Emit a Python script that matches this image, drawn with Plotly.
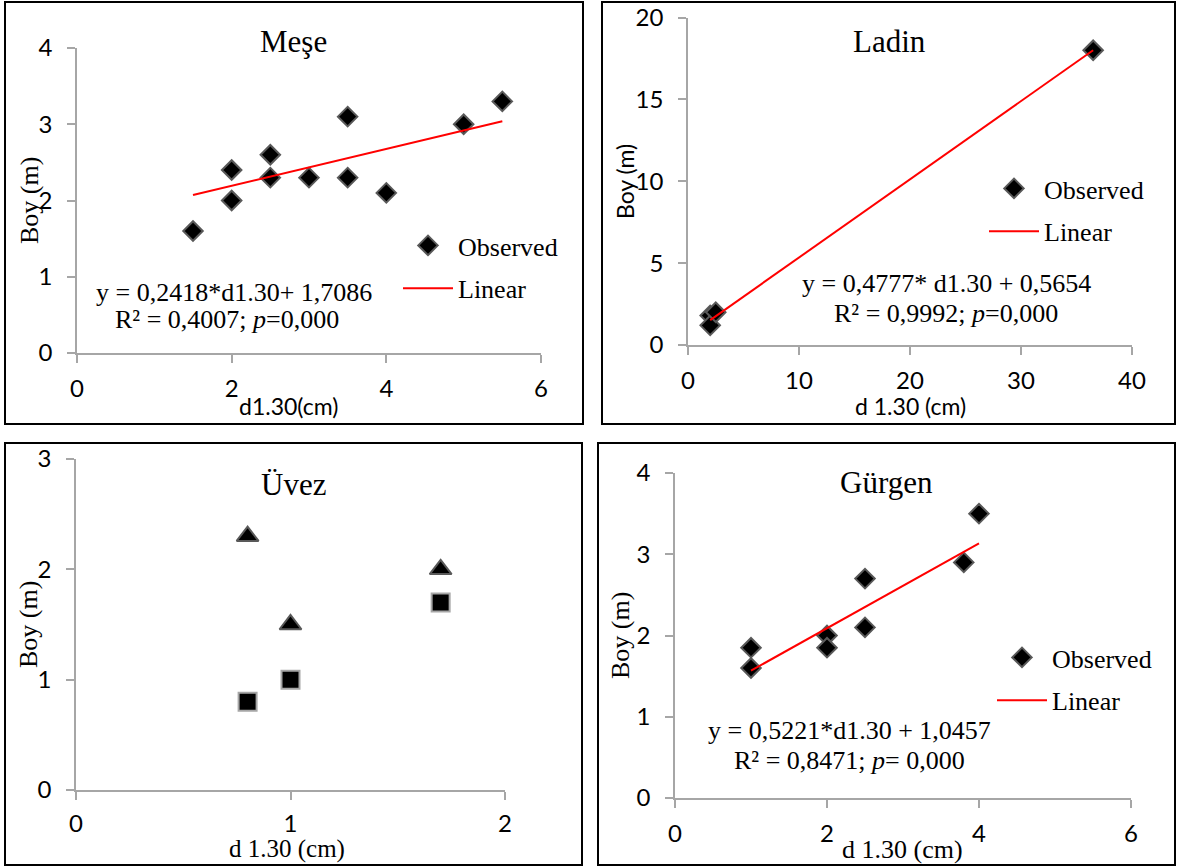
import plotly.graph_objects as go

# ---------------- data ----------------
mese_d = [1.5, 2.0, 2.0, 2.5, 2.5, 3.0, 3.5, 3.5, 4.0, 5.0, 5.5]
mese_h = [1.6, 2.4, 2.0, 2.6, 2.3, 2.3, 3.1, 2.3, 2.1, 3.0, 3.3]
mese_fit = [0.2418, 1.7086]

ladin_d = [2.0, 2.0, 2.5, 36.5]
ladin_h = [1.8, 1.2, 2.0, 18.0]
ladin_fit = [0.4777, 0.5654]

uvez_d = [0.8, 1.0, 1.7]
uvez_tri = [2.3, 1.5, 2.0]
uvez_sq = [0.8, 1.0, 1.7]

gurgen_d = [1.0, 1.0, 2.0, 2.0, 2.5, 2.5, 3.8, 4.0]
gurgen_h = [1.85, 1.6, 2.0, 1.85, 2.7, 2.1, 2.9, 3.5]
gurgen_fit = [0.5221, 1.0457]

titles = ["Meşe", "Ladin", "Üvez", "Gürgen"]
eq_lines = [
    ["y = 0,2418*d1.30+ 1,7086", "R² = 0,4007; <i>p</i>=0,000"],
    ["y = 0,4777* d1.30 + 0,5654", "R² = 0,9992; <i>p</i>=0,000"],
    ["y = 0,5221*d1.30 + 1,0457", "R² = 0,8471; <i>p</i>= 0,000"],
]

# ---------------- layout helpers ----------------
W, H = 1178, 867
def px(x):
    return x / W
def py(y):
    return 1 - y / H

SERIF = "Liberation Serif, Times New Roman, serif"
SANS = "Lato, Calibri, sans-serif"
AXC = "#a6a6a6"
MK_LINE = "#595959"

fig = go.Figure()

def fit_line(d, fit):
    xs = [min(d), max(d)]
    ys = [fit[0] * v + fit[1] for v in xs]
    return xs, ys

def add_obs(d, h, xa, ya, leg):
    fig.add_trace(go.Scatter(
        x=d, y=h, mode="markers", name="Observed", xaxis=xa, yaxis=ya,
        legend=leg, legendgroup=leg + "o",
        marker=dict(symbol="diamond", size=15, color="black",
                    line=dict(color=MK_LINE, width=2))))

def add_lin(d, fit, xa, ya, leg):
    xs, ys = fit_line(d, fit)
    fig.add_trace(go.Scatter(
        x=xs, y=ys, mode="lines", name="Linear", xaxis=xa, yaxis=ya,
        legend=leg, legendgroup=leg + "l",
        line=dict(color="#ff0000", width=2)))

add_obs(mese_d, mese_h, "x", "y", "legend")
add_lin(mese_d, mese_fit, "x", "y", "legend")
add_obs(ladin_d, ladin_h, "x2", "y2", "legend2")
add_lin(ladin_d, ladin_fit, "x2", "y2", "legend2")
fig.add_trace(go.Scatter(
    x=uvez_d, y=uvez_tri, mode="markers", showlegend=False, xaxis="x3", yaxis="y3",
    marker=dict(symbol="triangle-up", size=19, color="black",
                line=dict(color=MK_LINE, width=2))))
fig.add_trace(go.Scatter(
    x=uvez_d, y=uvez_sq, mode="markers", showlegend=False, xaxis="x3", yaxis="y3",
    marker=dict(symbol="square", size=18, color="black",
                line=dict(color=AXC, width=2))))
add_obs(gurgen_d, gurgen_h, "x4", "y4", "legend3")
add_lin(gurgen_d, gurgen_fit, "x4", "y4", "legend3")

def axis(domain, rng, dtick, anchor):
    return dict(domain=domain, range=rng, dtick=dtick, tick0=0, anchor=anchor,
                showline=True, linecolor=AXC, linewidth=1.5,
                ticks="outside", ticklen=8, tickwidth=1.5, tickcolor=AXC,
                showgrid=False, zeroline=False, fixedrange=True, automargin=False,
                tickfont=dict(family=SANS, size=24, color="black"))

layout = dict(
    width=W, height=H, margin=dict(l=0, r=0, t=0, b=0, pad=0, autoexpand=False),
    paper_bgcolor="white", plot_bgcolor="rgba(0,0,0,0)",
    xaxis=axis([px(77), px(541)], [0, 6], 2, "y"),
    yaxis=axis([py(353), py(48)], [0, 4], 1, "x"),
    xaxis2=axis([px(688), px(1132)], [0, 40], 10, "y2"),
    yaxis2=axis([py(345), py(17.5)], [0, 20], 5, "x2"),
    xaxis3=axis([px(76), px(505)], [0, 2], 1, "y3"),
    yaxis3=axis([py(790), py(459)], [0, 3], 1, "x3"),
    xaxis4=axis([px(675), px(1131)], [0, 6], 2, "y4"),
    yaxis4=axis([py(798), py(473)], [0, 4], 1, "x4"),
)
for k in ["xaxis", "xaxis2", "xaxis3", "xaxis4"]:
    layout[k]["ticklabelstandoff"] = 5
for k in ["yaxis", "yaxis2", "yaxis3", "yaxis4"]:
    layout[k]["ticklabelstandoff"] = 10
layout["xaxis3"]["ticklabelstandoff"] = 3

def leg(x, y):
    return dict(x=px(x), y=py(y), xanchor="left", yanchor="top",
                bgcolor="rgba(0,0,0,0)", borderwidth=0,
                font=dict(family=SERIF, size=26, color="black"),
                traceorder="grouped", tracegroupgap=6, itemwidth=50)

layout["legend"] = leg(398, 222)
layout["legend2"] = leg(984, 165)
layout["legend3"] = leg(992, 634)

fig.update_layout(**layout)

# panel borders
for (x0, y0, x1, y1) in [(5, 2, 583, 424), (602, 2, 1175, 424),
                         (5, 443, 582, 865), (598, 443, 1175, 865)]:
    fig.add_shape(type="rect", xref="paper", yref="paper",
                  x0=px(x0), x1=px(x1), y0=py(y0), y1=py(y1),
                  line=dict(color="black", width=2), fillcolor="rgba(0,0,0,0)")

def ann(text, x, y, font, size, angle=0):
    fig.add_annotation(text=text, x=px(x), y=py(y), xref="paper", yref="paper",
                       showarrow=False, xanchor="center", yanchor="middle",
                       textangle=angle, font=dict(family=font, size=size, color="black"))

# titles
ann(titles[0], 293, 42, SERIF, 31)
ann(titles[1], 889, 42, SERIF, 31)
ann(titles[2], 293, 484, SERIF, 31)
ann(titles[3], 886, 482, SERIF, 31)

# axis titles
ann("Boy (m)", 29, 201, SERIF, 26, -90)
ann("Boy (m)", 625, 182, SANS, 23, -90)
ann("Boy (m)", 28, 625, SERIF, 26, -90)
ann("Boy (m)", 620, 636, SERIF, 26, -90)
ann("d1.30(cm)", 288, 406, SANS, 23)
ann("d 1.30 (cm)", 910, 406, SANS, 23)
ann("d 1.30 (cm)", 287, 849, SERIF, 25)
ann("d 1.30 (cm)", 902, 849, SERIF, 26)

# equations
ann(eq_lines[0][0], 234, 293, SERIF, 26)
ann(eq_lines[0][1], 227, 320, SERIF, 26)
ann(eq_lines[1][0], 946, 283, SERIF, 26)
ann(eq_lines[1][1], 946, 313, SERIF, 26)
ann(eq_lines[2][0], 849, 730, SERIF, 26)
ann(eq_lines[2][1], 849, 760, SERIF, 26)

fig.write_html("out.html",
               post_script="document.body.style.margin='0';document.body.style.overflow='hidden';")
